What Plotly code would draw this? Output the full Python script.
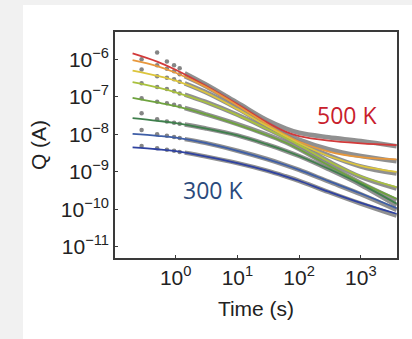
import plotly.graph_objects as go

# ---------------- data (log10 of Q in A) ----------------
SERIES = ["500 K", "475 K", "450 K", "425 K", "400 K", "375 K", "350 K", "300 K"]

# fitted curves
TIME_FIT = [0.2, 0.5, 1, 3, 10, 30, 60, 100, 300, 1000, 3800]
LOGQ_FIT_RED = [-5.84, -6.06, -6.28, -6.70, -7.20, -7.68, -7.93, -8.05, -8.17, -8.24, -8.29]
LOGQ_FIT_ORANGE = [-6.02, -6.18, -6.36, -6.73, -7.23, -7.73, -8.02, -8.20, -8.46, -8.61, -8.67]
LOGQ_FIT_YELLOW = [-6.30, -6.44, -6.57, -6.88, -7.33, -7.78, -8.05, -8.24, -8.58, -8.84, -9.00]
LOGQ_FIT_YGREEN = [-6.61, -6.75, -6.88, -7.14, -7.49, -7.86, -8.10, -8.29, -8.72, -9.12, -9.41]
LOGQ_FIT_GREEN = [-7.03, -7.15, -7.25, -7.46, -7.74, -8.02, -8.22, -8.40, -8.83, -9.29, -9.72]
LOGQ_FIT_DGREEN = [-7.57, -7.64, -7.70, -7.84, -8.03, -8.27, -8.44, -8.58, -8.92, -9.33, -9.85]
LOGQ_FIT_BLUE = [-7.99, -8.04, -8.09, -8.23, -8.44, -8.66, -8.82, -8.95, -9.25, -9.58, -9.97]
LOGQ_FIT_DBLUE = [-8.35, -8.40, -8.45, -8.59, -8.77, -8.97, -9.12, -9.24, -9.53, -9.83, -10.12]

# measured data: sparse early points
TIME_DOTS = [0.28, 0.5, 0.72, 0.94, 1.16]
LOGQ_DOTS_RED = [None, -5.82, -6.06, -6.16, -6.24]
LOGQ_DOTS_ORANGE = [-6.00, -6.16, -6.25, -6.32, -6.40]
LOGQ_DOTS_YELLOW = [-6.27, -6.45, -6.49, -6.53, -6.60]
LOGQ_DOTS_YGREEN = [-6.64, -6.74, -6.79, -6.85, -6.91]
LOGQ_DOTS_GREEN = [-7.04, -7.13, -7.17, -7.21, -7.25]
LOGQ_DOTS_DGREEN = [-7.44, -7.60, -7.66, -7.69, -7.72]
LOGQ_DOTS_BLUE = [-7.885, -8.00, -8.04, -8.07, -8.10]
LOGQ_DOTS_DBLUE = [-8.31, -8.37, -8.41, -8.44, -8.47]

# measured data: dense part (drawn as a band)
TIME_DENSE = [1.4, 3, 10, 30, 60, 100, 300, 1000, 3800]
LOGQ_DENSE_RED = [-6.37, -6.66, -7.16, -7.62, -7.84, -7.96, -8.08, -8.18, -8.32]
LOGQ_DENSE_ORANGE = [-6.45, -6.71, -7.21, -7.70, -7.98, -8.14, -8.40, -8.58, -8.72]
LOGQ_DENSE_YELLOW = [-6.64, -6.87, -7.31, -7.76, -8.03, -8.22, -8.56, -8.86, -9.05]
LOGQ_DENSE_YGREEN = [-6.94, -7.13, -7.48, -7.85, -8.09, -8.28, -8.72, -9.14, -9.45]
LOGQ_DENSE_GREEN = [-7.30, -7.46, -7.73, -8.01, -8.21, -8.39, -8.83, -9.30, -9.76]
LOGQ_DENSE_DGREEN = [-7.74, -7.84, -8.03, -8.27, -8.44, -8.58, -8.93, -9.35, -9.90]
LOGQ_DENSE_BLUE = [-8.13, -8.23, -8.44, -8.66, -8.82, -8.95, -9.26, -9.60, -10.02]
LOGQ_DENSE_DBLUE = [-8.49, -8.59, -8.77, -8.97, -9.12, -9.24, -9.54, -9.85, -10.17]

X_TICKS = [1, 10, 100, 1000]
X_TICK_TEXT = ["10<sup>0</sup>", "10<sup>1</sup>", "10<sup>2</sup>", "10<sup>3</sup>"]
Y_TICKS = [1e-6, 1e-7, 1e-8, 1e-9, 1e-10, 1e-11]
Y_TICK_TEXT = ["10<sup>\u22126</sup>", "10<sup>\u22127</sup>", "10<sup>\u22128</sup>",
               "10<sup>\u22129</sup>", "10<sup>\u221210</sup>", "10<sup>\u221211</sup>"]


def to_amps(logs):
    return [None if v is None else 10 ** v for v in logs]


FITS = [LOGQ_FIT_RED, LOGQ_FIT_ORANGE, LOGQ_FIT_YELLOW, LOGQ_FIT_YGREEN,
        LOGQ_FIT_GREEN, LOGQ_FIT_DGREEN, LOGQ_FIT_BLUE, LOGQ_FIT_DBLUE]
DOTS = [LOGQ_DOTS_RED, LOGQ_DOTS_ORANGE, LOGQ_DOTS_YELLOW, LOGQ_DOTS_YGREEN,
        LOGQ_DOTS_GREEN, LOGQ_DOTS_DGREEN, LOGQ_DOTS_BLUE, LOGQ_DOTS_DBLUE]
DENSE = [LOGQ_DENSE_RED, LOGQ_DENSE_ORANGE, LOGQ_DENSE_YELLOW, LOGQ_DENSE_YGREEN,
         LOGQ_DENSE_GREEN, LOGQ_DENSE_DGREEN, LOGQ_DENSE_BLUE, LOGQ_DENSE_DBLUE]
COLORS = ["#d23a3a", "#e8983c", "#dcc53c", "#a9c13e", "#6ea33e", "#3f7f4c", "#3e5ea6", "#2f42a0"]

GRAY = "#858585"

fig = go.Figure()

for dense in DENSE:
    fig.add_trace(go.Scatter(x=TIME_DENSE, y=to_amps(dense), mode="lines",
                             line=dict(color=GRAY, width=4.5, shape="spline"),
                             opacity=0.9, showlegend=False, hoverinfo="skip"))
for dots in DOTS:
    fig.add_trace(go.Scatter(x=TIME_DOTS, y=to_amps(dots), mode="markers",
                             marker=dict(color=GRAY, size=4.5),
                             showlegend=False, hoverinfo="skip"))
for name, fit, col in zip(SERIES, FITS, COLORS):
    fig.add_trace(go.Scatter(x=TIME_FIT, y=to_amps(fit), mode="lines", name=name,
                             line=dict(color=col, width=1.8, shape="spline"), showlegend=False))

axis_common = dict(showline=True, linecolor="#3a3a3a", linewidth=1.5, mirror=True, ticks="inside",
                   ticklen=3, tickwidth=1.2, tickcolor="#3a3a3a", showgrid=False, zeroline=False,
                   tickfont=dict(family="Liberation Sans, Arial", size=21, color="#222"))

fig.update_xaxes(type="log", range=[-0.984, 3.587], tickvals=X_TICKS, ticktext=X_TICK_TEXT,
                 title=dict(text="Time (s)", font=dict(family="Liberation Sans, Arial", size=21, color="#222"),
                            standoff=13), **axis_common)
fig.update_yaxes(type="log", range=[-11.30, -5.272], tickvals=Y_TICKS, ticktext=Y_TICK_TEXT,
                 title=dict(text="Q (A)", font=dict(family="Liberation Sans, Arial", size=21, color="#222"),
                            standoff=8), **axis_common)

fig.add_annotation(x=2.776, y=-7.485, xref="x", yref="y", text="500 K", showarrow=False,
                   font=dict(family="Open Sans", size=23, color="#c8202c"))
fig.add_annotation(x=0.605, y=-9.485, xref="x", yref="y", text="300 K", showarrow=False,
                   font=dict(family="Open Sans", size=23, color="#2b4a7c"))

# light gray frame strips (left and top) around the white panel
fig.add_shape(type="rect", xref="paper", yref="paper", x0=-0.5, x1=(23 - 115) / 282, y0=-0.5, y1=1.3,
              fillcolor="#f1f1f1", line=dict(width=0), layer="below")
fig.add_shape(type="rect", xref="paper", yref="paper", x0=-0.5, x1=1.2, y0=(258 - 5) / 226, y1=1.3,
              fillcolor="#f1f1f1", line=dict(width=0), layer="below")

fig.update_layout(width=412, height=339, margin=dict(l=115, r=15, t=32, b=81),
                  paper_bgcolor="white", plot_bgcolor="white")

fig.write_html("out.html")
